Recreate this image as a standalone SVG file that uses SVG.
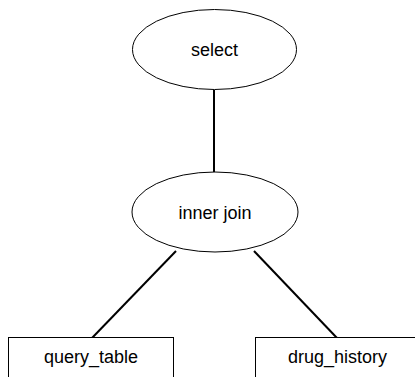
<svg xmlns="http://www.w3.org/2000/svg" width="415" height="377" viewBox="0 0 415 377">
<style>
.n{fill:#fff;stroke:#000;stroke-width:1}
.t{font-family:"Liberation Sans",Arial,sans-serif;font-size:18px;fill:#000;text-anchor:middle}
.c{stroke:#000;stroke-width:2;fill:none}
</style>
<rect width="415" height="377" fill="#fff"/>
<g id="connectors">
<line class="c" x1="214" y1="90" x2="214" y2="172"/>
<line class="c" x1="176" y1="251" x2="92" y2="338"/>
<line class="c" x1="254" y1="251" x2="337" y2="338"/>
</g>
<g id="select">
<ellipse class="n" cx="214.5" cy="49.5" rx="82" ry="40"/>
<text class="t" x="214.5" y="56">select</text>
</g>
<g id="inner_join">
<ellipse class="n" cx="215" cy="212" rx="83" ry="40"/>
<text class="t" x="215" y="219">inner join</text>
</g>
<g id="query_table">
<rect class="n" x="8.5" y="337.5" width="165" height="45"/>
<text class="t" x="91" y="363">query_table</text>
</g>
<g id="drug_history">
<rect class="n" x="255.5" y="337.5" width="165" height="45"/>
<text class="t" x="337.5" y="363">drug_history</text>
</g>
</svg>
